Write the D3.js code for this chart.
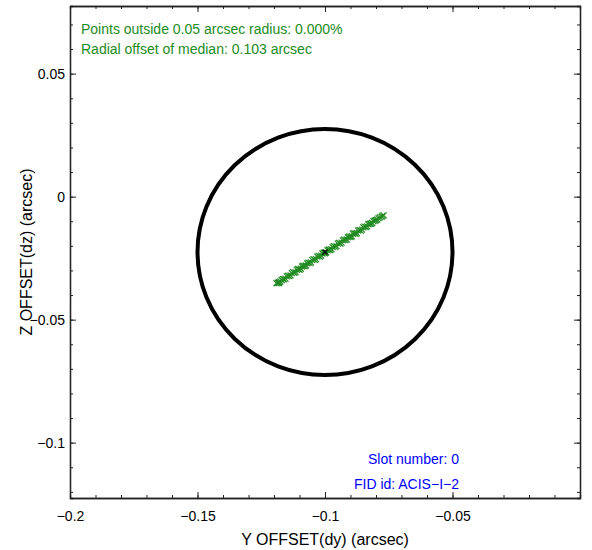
<!DOCTYPE html>
<html>
<head>
<meta charset="utf-8">
<script src="https://cdn.jsdelivr.net/npm/d3@7"></script>
<style>
  html, body { margin: 0; padding: 0; background: #fff; }
  svg { display: block; font-family: "Liberation Sans", Arial, Helvetica, sans-serif; }
  .axis path { stroke: #222; stroke-width: 1.3; }
  .axis line { stroke: #222; stroke-width: 1; }
  .axis text { font-size: 14px; fill: #000; }
</style>
</head>
<body>
<div id="chart"></div>
<script>
// centroid offsets of the fid light, arcsec
const dy = [
  -0.1190, -0.1185, -0.1180, -0.1175, -0.1165, -0.1155, -0.1145, -0.1135, -0.1125,
  -0.1115, -0.1105, -0.1095, -0.1085, -0.1075, -0.1065, -0.1055, -0.1045,
  -0.1035, -0.1025, -0.1015, -0.1005, -0.0995, -0.0985, -0.0975, -0.0965,
  -0.0955, -0.0945, -0.0935, -0.0925, -0.0915, -0.0905, -0.0895, -0.0885,
  -0.0875, -0.0865, -0.0855, -0.0845, -0.0835, -0.0825, -0.0815, -0.0805,
  -0.0795, -0.0785, -0.0778, -0.0775, -0.0770,
  -0.1180, -0.1170, -0.1160, -0.1150, -0.1140, -0.1130, -0.1120, -0.1110,
  -0.1100, -0.1090, -0.1080, -0.1070, -0.1060, -0.1050, -0.1040, -0.1030,
  -0.1020, -0.1010, -0.1000, -0.0990, -0.0980, -0.0970, -0.0960, -0.0950,
  -0.0940, -0.0930, -0.0920, -0.0910, -0.0900, -0.0890, -0.0880, -0.0870,
  -0.0860, -0.0850, -0.0840, -0.0830, -0.0820, -0.0810, -0.0800, -0.0790
];
const dz = [
  -0.0352, -0.0350, -0.0351, -0.0345, -0.0335, -0.0333, -0.0321, -0.0320, -0.0307,
  -0.0307, -0.0294, -0.0293, -0.0281, -0.0280, -0.0268, -0.0267, -0.0254,
  -0.0254, -0.0241, -0.0240, -0.0228, -0.0227, -0.0215, -0.0214, -0.0201,
  -0.0201, -0.0188, -0.0187, -0.0175, -0.0174, -0.0162, -0.0161, -0.0148,
  -0.0148, -0.0135, -0.0134, -0.0122, -0.0121, -0.0110, -0.0107, -0.0097,
  -0.0093, -0.0084, -0.0082, -0.0078, -0.0076,
  -0.0348, -0.0339, -0.0336, -0.0324, -0.0323, -0.0311, -0.0310, -0.0297,
  -0.0297, -0.0284, -0.0283, -0.0271, -0.0270, -0.0258, -0.0257, -0.0244,
  -0.0244, -0.0231, -0.0230, -0.0218, -0.0217, -0.0205, -0.0204, -0.0191,
  -0.0191, -0.0178, -0.0177, -0.0165, -0.0164, -0.0151, -0.0151, -0.0138,
  -0.0138, -0.0125, -0.0124, -0.0112, -0.0110, -0.0100, -0.0096, -0.0087
];
const median = { dy: -0.1000, dz: -0.0225 };
const radius = 0.05;

const xTicks = [-0.2, -0.15, -0.1, -0.05];
const yTicks = [0.05, 0, -0.05, -0.1];

const statLines = [
  'Points outside 0.05 arcsec radius: 0.000%',
  'Radial offset of median: 0.103 arcsec'
];
const idLines = ['Slot number: 0', 'FID id: ACIS\u2212I\u22122'];

const xTitle = 'Y OFFSET(dy) (arcsec)';
const yTitle = 'Z OFFSET(dz) (arcsec)';

const W = 592, H = 550;
const margin = { top: 6, right: 12, bottom: 52, left: 70 };
const width = W - margin.left - margin.right;
const height = H - margin.top - margin.bottom;

const svg = d3.select('#chart').append('svg')
  .attr('width', W)
  .attr('height', H);

const g = svg.append('g')
  .attr('transform', `translate(${margin.left},${margin.top})`);

// plot spans +/- 0.1 arcsec around the median
const xScale = d3.scaleLinear().domain([median.dy - 0.1, median.dy + 0.1]).range([0, width]);
const yScale = d3.scaleLinear().domain([median.dz - 0.1, median.dz + 0.1]).range([height, 0]);

const fmt = d3.format('');

// minor ticks on all four sides, pointing inward
const minorX = xScale.ticks(20);
const minorY = yScale.ticks(20);

g.append('g').attr('class', 'axis')
  .attr('transform', `translate(0,${height})`)
  .call(d3.axisBottom(xScale).tickValues(minorX).tickSize(-3).tickFormat(''));
g.append('g').attr('class', 'axis')
  .call(d3.axisTop(xScale).tickValues(minorX).tickSize(-3).tickFormat(''));
g.append('g').attr('class', 'axis')
  .call(d3.axisLeft(yScale).tickValues(minorY).tickSize(-3).tickFormat(''));
g.append('g').attr('class', 'axis')
  .attr('transform', `translate(${width},0)`)
  .call(d3.axisRight(yScale).tickValues(minorY).tickSize(-3).tickFormat(''));

// major ticks
g.append('g').attr('class', 'axis')
  .attr('transform', `translate(0,${height})`)
  .call(d3.axisBottom(xScale).tickValues(xTicks).tickSize(-6).tickSizeOuter(0).tickPadding(13).tickFormat(fmt));
g.append('g').attr('class', 'axis')
  .call(d3.axisTop(xScale).tickValues(xTicks).tickSize(-6).tickSizeOuter(0).tickFormat(''));
g.append('g').attr('class', 'axis')
  .call(d3.axisLeft(yScale).tickValues(yTicks).tickSize(-6).tickSizeOuter(0).tickPadding(5).tickFormat(fmt));
g.append('g').attr('class', 'axis')
  .attr('transform', `translate(${width},0)`)
  .call(d3.axisRight(yScale).tickValues(yTicks).tickSize(-6).tickSizeOuter(0).tickFormat(''));

// 0.05 arcsec circle around the median
g.append('ellipse')
  .attr('cx', xScale(median.dy))
  .attr('cy', yScale(median.dz))
  .attr('rx', xScale(median.dy + radius) - xScale(median.dy))
  .attr('ry', yScale(median.dz) - yScale(median.dz + radius))
  .attr('fill', 'none')
  .attr('stroke', '#000')
  .attr('stroke-width', 4);

const cross = 'M-3,-3L3,3M-3,3L3,-3';

g.append('g')
  .selectAll('path')
  .data(d3.zip(dy, dz))
  .join('path')
  .attr('transform', (d) => `translate(${xScale(d[0])},${yScale(d[1])})`)
  .attr('d', cross)
  .attr('stroke', '#228B22')
  .attr('stroke-width', 1.2)
  .attr('fill', 'none');

g.append('path')
  .attr('transform', `translate(${xScale(median.dy)},${yScale(median.dz)})`)
  .attr('d', 'M-2.5,-2.5L2.5,2.5M-2.5,2.5L2.5,-2.5')
  .attr('stroke', '#000')
  .attr('stroke-width', 1.3);

// annotations
g.append('g')
  .selectAll('text')
  .data(statLines)
  .join('text')
  .attr('x', 11)
  .attr('y', (d, i) => 28 + i * 20)
  .attr('fill', '#228B22')
  .style('font-size', '14px')
  .text((d) => d);

g.append('g')
  .selectAll('text')
  .data(idLines)
  .join('text')
  .attr('x', 389)
  .attr('y', (d, i) => 458 + i * 25)
  .attr('text-anchor', 'end')
  .attr('fill', '#0000FF')
  .style('font-size', '14px')
  .text((d) => d);

// axis titles
svg.append('text')
  .attr('x', margin.left + width / 2)
  .attr('y', 545)
  .attr('text-anchor', 'middle')
  .style('font-size', '16px')
  .text(xTitle);

svg.append('text')
  .attr('transform', `translate(32,${margin.top + height / 2}) rotate(-90)`)
  .attr('text-anchor', 'middle')
  .style('font-size', '16px')
  .text(yTitle);
</script>
</body>
</html>
